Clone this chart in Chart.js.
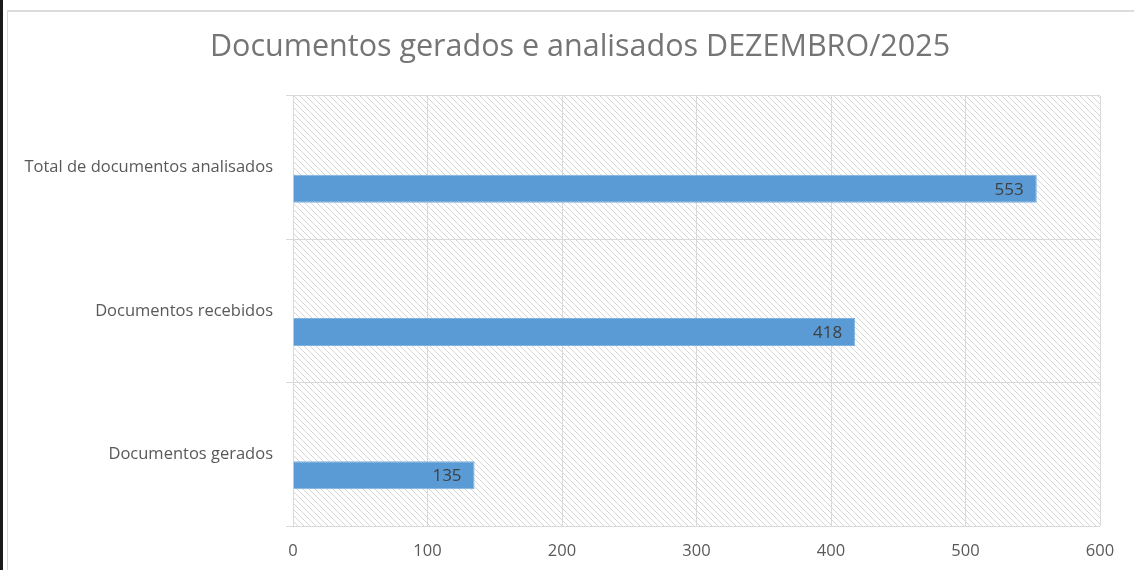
<!DOCTYPE html>
<html>
<head>
<meta charset="utf-8">
<script src="https://cdn.jsdelivr.net/npm/chart.js@4.4.1/dist/chart.umd.min.js"></script>
<style>
  html, body { margin: 0; padding: 0; background: #fff; }
  #wrap { position: relative; width: 1134px; height: 570px; overflow: hidden; }
  #edge { position: absolute; left: 0; top: 0; width: 3px; height: 570px; background: #1a1a1a; }
  #frame { position: absolute; left: 7px; top: 10px; right: -5px; bottom: -5px; border-left: 1px solid #d9d9d9; border-top: 2px solid #dcdcdc; }
  canvas { position: absolute; left: 0; top: 0; }
</style>
</head>
<body>
<div id="wrap">
  <div id="edge"></div>
  <div id="frame"></div>
  <canvas id="chart" width="1134" height="570"></canvas>
</div>
<script>
// categories, top to bottom
const categories = ['Total de documentos analisados', 'Documentos recebidos', 'Documentos gerados'];
const values = [553, 418, 135];
const emptySeries = [null, null, null];
const xTicks = [0, 100, 200, 300, 400, 500, 600];
const chartTitle = 'Documentos gerados e analisados DEZEMBRO/2025';

const barColor = '#5b9bd5';
const gridColor = '#d9d9d9';
const textColor = '#595959';

// diagonal hatch for the plot area
function makeHatch(ctx) {
    const s = 6;
    const tile = document.createElement('canvas');
    tile.width = s;
    tile.height = s;
    const t = tile.getContext('2d');
    t.strokeStyle = '#d6d6d6';
    t.lineWidth = 1;
    [-s, 0, s].forEach(o => {
        t.beginPath();
        t.moveTo(o, 0);
        t.lineTo(o + s, s);
        t.stroke();
    });
    return ctx.createPattern(tile, 'repeat');
}

const hatchBackground = {
    id: 'hatchBackground',
    beforeDraw(chart) {
        const { ctx, chartArea: a } = chart;
        ctx.save();
        ctx.fillStyle = makeHatch(ctx);
        ctx.fillRect(a.left, a.top, a.right - a.left, a.bottom - a.top);
        ctx.restore();
    }
};

// title is drawn by hand so it can sit off the canvas centre like the original
const titleText = {
    id: 'titleText',
    afterDraw(chart) {
        const { ctx } = chart;
        ctx.save();
        ctx.font = '30.5px "Open Sans"';
        ctx.fillStyle = '#757575';
        ctx.textAlign = 'center';
        ctx.textBaseline = 'middle';
        ctx.fillText(chartTitle, 580, 47);
        ctx.restore();
    }
};

// value labels inside the bar end
const valueLabels = {
    id: 'valueLabels',
    afterDatasetsDraw(chart) {
        const { ctx } = chart;
        const meta = chart.getDatasetMeta(1);
        ctx.save();
        ctx.font = '17px "Open Sans"';
        ctx.fillStyle = '#404040';
        ctx.textAlign = 'right';
        ctx.textBaseline = 'middle';
        meta.data.forEach((bar, i) => {
            ctx.fillText(String(values[i]), bar.x - 13, bar.y + 1);
        });
        ctx.restore();
    }
};

const ctx = document.getElementById('chart').getContext('2d');

new Chart(ctx, {
    type: 'bar',
    data: {
        labels: categories,
        datasets: [
            { data: emptySeries, backgroundColor: barColor },
            {
                data: values,
                backgroundColor: barColor,
                borderColor: '#7fb2e0',
                borderWidth: 1,
                borderSkipped: 'start'
            }
        ]
    },
    options: {
        indexAxis: 'y',
        responsive: false,
        animation: false,
        devicePixelRatio: 1,
        categoryPercentage: 0.586,
        barPercentage: 0.667,
        layout: { padding: { left: 0, right: 34, top: 96, bottom: 0 } },
        plugins: {
            legend: { display: false },
            tooltip: { enabled: false },
            title: { display: false }
        },
        scales: {
            x: {
                min: 0,
                max: 600,
                afterBuildTicks: scale => { scale.ticks = xTicks.map(v => ({ value: v })); },
                afterFit: scale => { scale.height = 44; },
                grid: { color: gridColor, drawTicks: false },
                border: { display: false },
                ticks: {
                    color: textColor,
                    padding: 15,
                    font: { family: 'Open Sans', size: 16.5, lineHeight: 1.2 }
                }
            },
            y: {
                afterFit: scale => { scale.width = 293; },
                grid: { color: gridColor, offset: true, tickLength: 7 },
                border: { display: false },
                ticks: {
                    color: textColor,
                    padding: 13,
                    font: { family: 'Open Sans', size: 16.5 }
                }
            }
        }
    },
    plugins: [hatchBackground, valueLabels, titleText]
});
</script>
</body>
</html>
